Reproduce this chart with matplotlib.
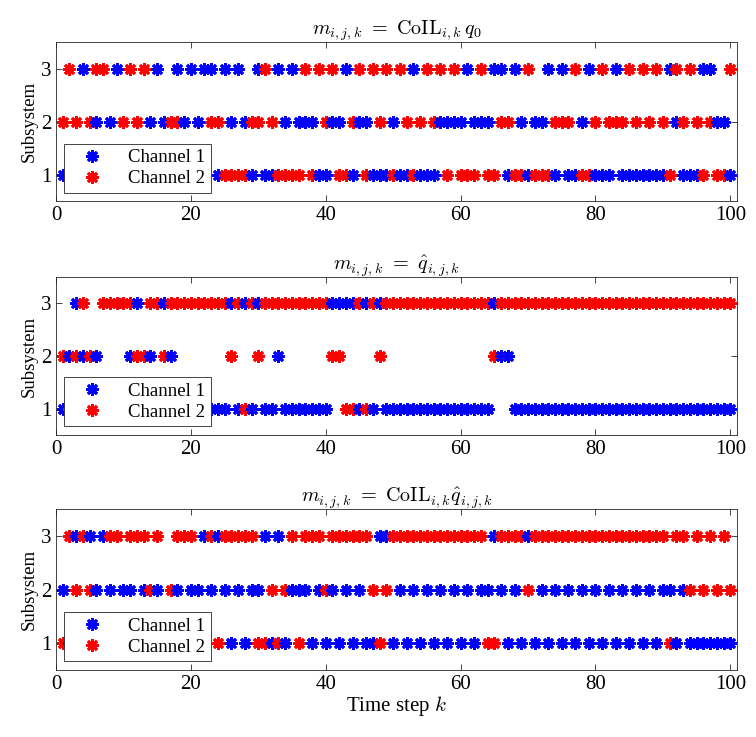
import matplotlib
matplotlib.use("Agg")
import matplotlib.pyplot as plt
import numpy as np

plt.rcParams['font.family'] = 'serif'
plt.rcParams['font.serif'] = ['Liberation Serif', 'DejaVu Serif']
plt.rcParams['mathtext.fontset'] = 'cm'

# time steps
k = list(range(1, 101))

# subsystem chosen by each channel, panel 1: m = CoIL q0
ch1_a = [1, 1, 1, 3, 1, 2, 1, 2, 3, 1, 1, 1, 1, 2, 3, 2, 1, 3, 2, 3,
         2, 3, 3, 1, 3, 2, 3, 2, 1, 3, 1, 1, 3, 2, 3, 2, 2, 2, 1, 1,
         2, 2, 3, 1, 2, 2, 1, 1, 1, 2, 1, 1, 3, 1, 1, 1, 2, 2, 2, 2,
         3, 2, 2, 2, 3, 3, 1, 3, 2, 1, 2, 2, 3, 1, 3, 1, 1, 2, 3, 1,
         1, 1, 3, 1, 1, 1, 1, 1, 1, 1, 3, 2, 1, 1, 1, 3, 3, 2, 2, 1]
ch2_a = [2, 3, 2, 1, 2, 3, 3, 1, 1, 2, 3, 2, 3, 1, 1, 1, 2, 2, 1, 1,
         1, 1, 2, 2, 1, 1, 1, 1, 2, 2, 3, 2, 1, 1, 1, 1, 3, 1, 3, 2,
         3, 1, 1, 2, 3, 1, 3, 2, 3, 1, 3, 2, 1, 2, 3, 2, 3, 1, 3, 1,
         1, 1, 3, 1, 1, 2, 2, 1, 1, 3, 1, 1, 1, 2, 2, 2, 3, 1, 1, 2,
         3, 2, 2, 2, 3, 2, 3, 2, 3, 2, 1, 3, 2, 3, 2, 1, 2, 1, 1, 3]

# panel 2: m = q_hat
ch1_b = [1, 2, 3, 2, 1, 2, 1, 3, 1, 3, 2, 3, 1, 2, 1, 3, 2, 1, 1, 1,
         1, 1, 1, 1, 1, 3, 1, 3, 1, 3, 1, 1, 2, 1, 1, 1, 1, 1, 1, 1,
         3, 3, 3, 3, 1, 3, 1, 3, 1, 1, 1, 1, 1, 1, 1, 1, 1, 1, 1, 1,
         1, 1, 1, 1, 3, 2, 2, 1, 1, 1, 1, 1, 1, 1, 1, 1, 1, 1, 1, 1,
         1, 1, 1, 1, 1, 1, 1, 1, 1, 1, 1, 1, 1, 1, 1, 1, 1, 1, 1, 1]
ch2_b = [2, 1, 2, 3, 2, 1, 3, 3, 3, 3, 3, 2, 2, 3, 3, 2, 3, 3, 3, 3,
         3, 3, 3, 3, 3, 2, 3, 1, 3, 2, 3, 3, 3, 3, 3, 3, 3, 3, 3, 3,
         2, 2, 1, 1, 3, 1, 3, 2, 3, 3, 3, 3, 3, 3, 3, 3, 3, 3, 3, 3,
         3, 3, 3, 3, 2, 3, 3, 3, 3, 3, 3, 3, 3, 3, 3, 3, 3, 3, 3, 3,
         3, 3, 3, 3, 3, 3, 3, 3, 3, 3, 3, 3, 3, 3, 3, 3, 3, 3, 3, 3]

# panel 3: m = CoIL q_hat
ch1_c = [2, 1, 3, 1, 3, 2, 3, 2, 1, 2, 2, 1, 2, 1, 2, 1, 1, 2, 1, 2,
         2, 3, 2, 3, 2, 1, 2, 1, 2, 2, 3, 1, 3, 1, 2, 2, 2, 1, 2, 1,
         2, 1, 2, 1, 2, 1, 1, 3, 3, 1, 2, 1, 2, 1, 2, 1, 2, 1, 2, 1,
         2, 1, 2, 2, 3, 2, 1, 2, 1, 3, 1, 2, 1, 2, 1, 2, 1, 2, 1, 2,
         1, 2, 1, 2, 1, 2, 1, 2, 1, 2, 2, 1, 2, 1, 1, 1, 1, 1, 1, 1]
ch2_c = [1, 3, 2, 3, 2, 1, 1, 3, 3, 1, 3, 3, 3, 2, 3, 1, 2, 3, 3, 3,
         1, 1, 3, 1, 3, 3, 3, 3, 3, 1, 1, 2, 1, 2, 3, 1, 3, 3, 3, 2,
         3, 3, 3, 3, 3, 3, 2, 1, 2, 3, 3, 3, 3, 3, 3, 3, 3, 3, 3, 3,
         3, 3, 3, 1, 1, 3, 3, 3, 3, 2, 3, 3, 3, 3, 3, 3, 3, 3, 3, 3,
         3, 3, 3, 3, 3, 3, 3, 3, 3, 3, 1, 3, 3, 2, 3, 2, 3, 2, 3, 2]

titles = [r'$m_{i,j,k}\ =\ \mathrm{CoIL}_{i,k}\,q_0$',
          r'$m_{i,j,k}\ =\ \hat{q}_{i,j,k}$',
          r'$m_{i,j,k}\ =\ \mathrm{CoIL}_{i,k}\hat{q}_{i,j,k}$']
panels = [(ch1_a, ch2_a), (ch1_b, ch2_b), (ch1_c, ch2_c)]

fig = plt.figure(figsize=(7.56, 7.37), dpi=100)
# axes boxes [left, bottom, width, height] in figure fraction
boxes = [[0.074, 0.727, 0.901, 0.216],
         [0.074, 0.410, 0.901, 0.214],
         [0.074, 0.091, 0.901, 0.218]]

star = (8, 2, 0)  # asterisk like matlab '*'
ms = 9
mew = 2.0

for i in range(3):
    ax = fig.add_axes(boxes[i])
    c1, c2 = panels[i]
    # draw step by step so the overlap looks like the original
    for j in range(len(k)):
        ax.plot(k[j], c1[j], linestyle='none', marker=star, ms=ms, mew=mew,
                color='b', label='Channel 1' if j == 0 else None)
        ax.plot(k[j], c2[j], linestyle='none', marker=star, ms=ms, mew=mew,
                color='r', label='Channel 2' if j == 0 else None)
    ax.set_xlim(0, 101)
    ax.set_ylim(0.5, 3.5)
    ax.set_xticks([0, 20, 40, 60, 80, 100])
    ax.set_yticks([1, 2, 3])
    ax.tick_params(direction='in', top=True, right=True, labelsize=15,
                   length=4, width=0.6, color='0.15')
    for s in ax.spines.values():
        s.set_color('0.15')
        s.set_linewidth(0.6)
    ax.set_ylabel('Subsystem', fontsize=13.5, labelpad=2)
    ax.set_title(titles[i], fontsize=14.5, pad=5)
    leg = ax.legend(loc='lower left', fontsize=13.5, frameon=True, fancybox=False,
                    borderaxespad=0.45, handletextpad=0.8, borderpad=0.3,
                    labelspacing=0.2, handlelength=2.3)
    leg.get_frame().set_edgecolor('0.15')
    leg.get_frame().set_linewidth(0.6)
    leg.get_frame().set_alpha(1)
    if i == 2:
        ax.set_xlabel('Time step $k$', fontsize=15, labelpad=0)

plt.savefig('out.png', dpi=100)
